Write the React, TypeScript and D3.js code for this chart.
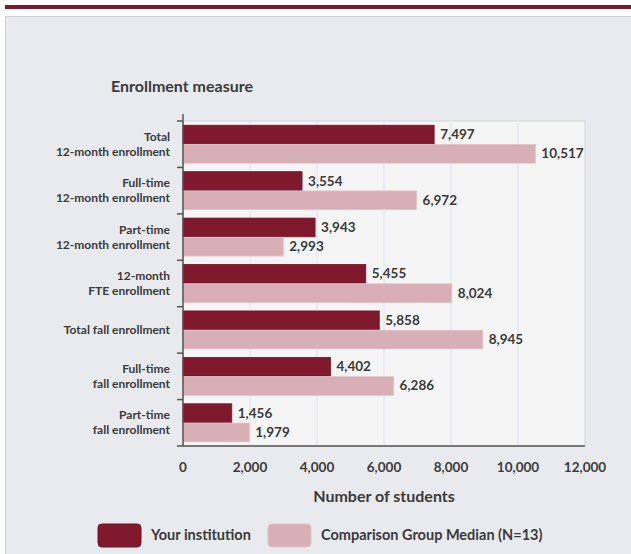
import React from "react";
import * as d3 from "d3";

const categories: string[][] = [
  ["Total", "12-month enrollment"],
  ["Full-time", "12-month enrollment"],
  ["Part-time", "12-month enrollment"],
  ["12-month", "FTE enrollment"],
  ["Total fall enrollment"],
  ["Full-time", "fall enrollment"],
  ["Part-time", "fall enrollment"],
];
const institutionValues = [7497, 3554, 3943, 5455, 5858, 4402, 1456];
const comparisonValues = [10517, 6972, 2993, 8024, 8945, 6286, 1979];
const xTicks = [0, 2000, 4000, 6000, 8000, 10000, 12000];
const seriesNames = ["Your institution", "Comparison Group Median (N=13)"];
const seriesColors = ["#80192d", "#d8afb6"];

const FONT = "Lato, 'Open Sans', sans-serif";
const TXT = "#3a3a3a";

export default function App() {
  const W = 631, H = 554;
  const left = 183, right = 585, top = 121, bottom = 446;
  const x = d3.scaleLinear().domain([0, 12000]).range([left, right]);
  const y = d3
    .scaleBand<number>()
    .domain(d3.range(categories.length))
    .range([top, bottom])
    .paddingInner(0)
    .paddingOuter(0);
  const inner = d3.scaleBand<number>().domain([0, 1]).range([0, y.bandwidth()]).paddingOuter(0.22).paddingInner(0.03);
  const fmt = d3.format(",");
  const series = [institutionValues, comparisonValues];
  const boundaries = d3.range(categories.length + 1).map((i) => top + i * y.step());

  return (
    <svg
      width={W}
      height={H}
      style={{ position: "absolute", left: 0, top: 0, fontFamily: FONT }}
    >
      <rect x={0} y={0} width={W} height={H} fill="#ffffff" />
      <rect x={5} y={5} width={W - 5} height={4} fill="#7b1a2d" />
      <rect x={5.5} y={16.5} width={W} height={H} fill="#e9eaee" stroke="#cfd0d3" />
      <text x={111} y={92} fontSize={16} fontWeight={700} fill={TXT}>
        Enrollment measure
      </text>
      {/* plot area */}
      <rect x={left} y={top} width={right - left} height={bottom - top} fill="#f5f5f5" stroke="#d4d4d8" />
      {xTicks.slice(1, -1).map((t) => (
        <line key={t} x1={x(t)} x2={x(t)} y1={top} y2={bottom} stroke="#dfe4ef" strokeWidth={1} />
      ))}
      {/* bars */}
      {series.map((vals, s) =>
        vals.map((v, i) => {
          const by = (y(i) as number) + (inner(s) as number);
          const bh = inner.bandwidth();
          return (
            <g key={`${s}-${i}`}>
              <rect
                x={x(0)}
                y={by}
                width={x(v) - x(0)}
                height={bh}
                fill={seriesColors[s]}
                stroke={s === 0 ? "#6e1526" : "#e2c3c8"}
                strokeWidth={0.8}
              />
              <text
                x={x(v) + 6}
                y={by + bh / 2 + 4.5}
                fontSize={13.5}
                fontWeight={700}
                fill={TXT}
              >
                {fmt(v)}
              </text>
            </g>
          );
        })
      )}
      {/* axes */}
      <line x1={left} x2={left} y1={top - 7} y2={bottom} stroke="#555" strokeWidth={1.5} />
      <line x1={left - 6} x2={right} y1={bottom} y2={bottom} stroke="#555" strokeWidth={1.5} />
      {boundaries.slice(0, -1).map((b, i) => (
        <line key={i} x1={left - 6} x2={left} y1={b} y2={b} stroke="#555" strokeWidth={1.5} />
      ))}
      {categories.map((lines, i) => {
        const cy = (y(i) as number) + y.bandwidth() / 2;
        const lh = 15;
        const y0 = cy - ((lines.length - 1) * lh) / 2 + 4;
        return (
          <text key={i} textAnchor="end" fontSize={12} fontWeight={700} fill={TXT}>
            {lines.map((l, j) => (
              <tspan key={j} x={170} y={y0 + j * lh}>
                {l}
              </tspan>
            ))}
          </text>
        );
      })}
      {xTicks.map((t) => (
        <text key={t} x={x(t)} y={472} textAnchor="middle" fontSize={13.5} fontWeight={700} fill={TXT}>
          {fmt(t)}
        </text>
      ))}
      <text x={(left + right) / 2} y={502} textAnchor="middle" fontSize={16} fontWeight={700} fill={TXT}>
        Number of students
      </text>
      {/* legend */}
      {[98, 268].map((lx, s) => (
        <g key={s}>
          <rect x={lx} y={524} width={43} height={23} rx={4} fill={seriesColors[s]} stroke={s === 0 ? "#6e1526" : "#e2c3c8"} />
          <text x={lx + 53} y={540} fontSize={14.5} fontWeight={700} fill={TXT}>
            {seriesNames[s]}
          </text>
        </g>
      ))}
    </svg>
  );
}
